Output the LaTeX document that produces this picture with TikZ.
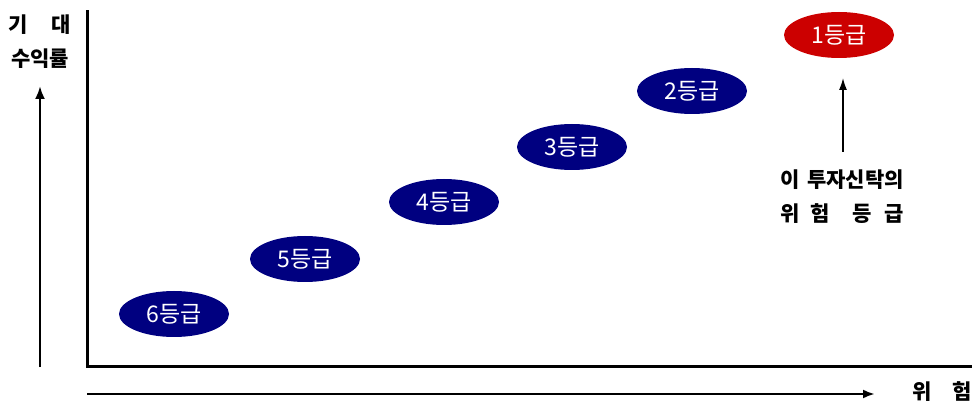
\documentclass[tikz,border=0pt]{standalone}
\usepackage{fontspec}
\setmainfont{Noto Sans CJK KR}
\usetikzlibrary{shapes.geometric}
\usetikzlibrary{arrows.meta}
\definecolor{gradenavy}{RGB}{0,0,128}
\definecolor{gradered}{RGB}{204,0,0}

\begin{document}
\begin{tikzpicture}[x=1pt,y=-1pt,
    grade/.style={ellipse,fill=gradenavy,text=white,minimum width=110pt,minimum height=46pt,inner sep=0pt,font=\fontsize{23}{23}\selectfont},
    txt/.style={inner sep=0pt,font=\fontsize{21}{21}\selectfont\bfseries},
    axis/.style={line width=3pt,line cap=rect}]
        \useasboundingbox (0,0) rectangle (972,403);
        % axes
        \coordinate (ytop) at (87,12);
        \coordinate (o) at (87,366);
        \coordinate (xend) at (972,366);
        \draw[axis](ytop)--(o)--(xend);
        \coordinate (ra) at (40,367);
        \coordinate (rb) at (40,86);
        \draw[-{Latex[length=13pt,width=10pt]},line width=2.5pt](ra)--(rb);
        \coordinate (xa) at (87,394);
        \coordinate (xb) at (875,394);
        \draw[-{Latex[length=12pt,width=9pt]},line width=2.5pt](xa)--(xb);
        % grades
        \node[grade] (g6) at (174,314){6등급};
        \node[grade] (g5) at (305,259){5등급};
        \node[grade] (g4) at (444,202){4등급};
        \node[grade] (g3) at (572,147){3등급};
        \node[grade] (g2) at (692,91){2등급};
        \node[grade,fill=gradered] (g1) at (839,35){1등급};
        % labels
        \node[txt] (ret1) at (40,25){\makebox[62pt]{기\hfill 대}};
        \node[txt] (ret2) at (40,59){수익률};
        \node[txt] (risk) at (942,392){\makebox[60pt]{위\hfill 험}};
        \node[txt] (note1) at (842,180){이\hspace{8pt}투자신탁의};
        \node[txt] (note2) at (842,214){위\hspace{11pt}험\hspace{22pt}등\hspace{13pt}급};
        \coordinate (tail) at (843,152);
        \coordinate (tip) at (843,78);
        \draw[-{Latex[length=12pt,width=8pt]},line width=1.5pt](tail)--(tip);
    \end{tikzpicture}
\end{document}
